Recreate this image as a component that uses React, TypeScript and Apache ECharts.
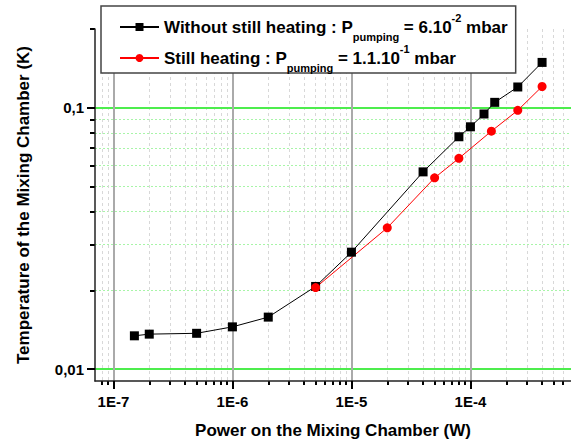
import React, { useEffect, useRef } from "react";
import * as echarts from "echarts";

const blackPower = [1.5e-7, 2e-7, 5e-7, 1e-6, 2e-6, 5e-6, 1e-5, 4e-5, 8e-5, 1e-4, 1.3e-4, 1.6e-4, 2.5e-4, 4e-4];
const blackTemp = [0.0134, 0.0136, 0.0137, 0.0145, 0.0158, 0.0207, 0.028, 0.0568, 0.0774, 0.0845, 0.0946, 0.1048, 0.12, 0.149];
const redPower = [5e-6, 2e-5, 5e-5, 8e-5, 1.5e-4, 2.5e-4, 4e-4];
const redTemp = [0.0205, 0.0347, 0.0539, 0.064, 0.0813, 0.0977, 0.1205];

const xMajorTicks = [1e-7, 1e-6, 1e-5, 1e-4];
const xMinorTicks = [
  8e-8, 9e-8,
  2e-7, 3e-7, 4e-7, 5e-7, 6e-7, 7e-7, 8e-7, 9e-7,
  2e-6, 3e-6, 4e-6, 5e-6, 6e-6, 7e-6, 8e-6, 9e-6,
  2e-5, 3e-5, 4e-5, 5e-5, 6e-5, 7e-5, 8e-5, 9e-5,
  2e-4, 3e-4, 4e-4, 5e-4, 6e-4,
];
const yMajorTicks = [0.01, 0.1];
const yMinorTicks = [0.02, 0.03, 0.04, 0.05, 0.06, 0.07, 0.08, 0.09, 0.2];

const seriesNames = ["Without still heating", "Still heating"];

const FONT = "'Liberation Sans', Arial, sans-serif";
const X_MIN = 7e-8;
const X_MAX = 7e-4;
const Y_MIN = 0.009;
const Y_MAX = 0.2;

export default function App() {
  const ref = useRef<HTMLDivElement>(null);
  useEffect(() => {
    document.body.style.margin = "0";
    if (!ref.current) return;
    const chart = echarts.init(ref.current, null, { renderer: "svg" });
    const blackData = blackPower.map((p, i) => [p, blackTemp[i]]);
    const redData = redPower.map((p, i) => [p, redTemp[i]]);
    const rich = {
      m: { fontSize: 17, fontWeight: "bold", fontFamily: FONT, color: "#000", lineHeight: 30 },
      sub: { fontSize: 11, fontWeight: "bold", fontFamily: FONT, color: "#000", lineHeight: 12, verticalAlign: "bottom" },
      sup: { fontSize: 11, fontWeight: "bold", fontFamily: FONT, color: "#000", lineHeight: 28, verticalAlign: "top" },
    };
    chart.setOption({
      animation: false,
      backgroundColor: "#fff",
      textStyle: { fontFamily: FONT },
      grid: { left: 95, top: 29, right: 0, bottom: 61, containLabel: false },
      legend: {
        orient: "vertical",
        left: 101,
        top: 6,
        padding: [6, 8, 0, 18],
        itemGap: 1,
        itemWidth: 39,
        itemHeight: 10,
        backgroundColor: "#fff",
        borderColor: "#444",
        borderWidth: 1.5,
        data: seriesNames,
        formatter: (name: string) =>
          name === seriesNames[0]
            ? "{m|Without still heating : P}{sub|pumping}{m| = 6.10}{sup|-2}{m| mbar}"
            : "{m|Still heating : P}{sub|pumping}{m| = 1.1.10}{sup|-1}{m| mbar}",
        textStyle: { rich },
      },
      xAxis: [
        {
          type: "log",
          min: X_MIN,
          max: X_MAX,
          position: "bottom",
          z: 1,
          name: "Power on the Mixing Chamber (W)",
          nameLocation: "middle",
          nameGap: 41,
          nameTextStyle: { fontSize: 17, fontWeight: "bold", color: "#000", fontFamily: FONT },
          axisLine: { show: true, onZero: false, lineStyle: { color: "#222", width: 1.5 } },
          axisTick: { show: true, length: 8, customValues: xMajorTicks, lineStyle: { color: "#000", width: 2 } },
          axisLabel: {
            customValues: xMajorTicks,
            margin: 13,
            fontSize: 15,
            fontWeight: "bold",
            color: "#000",
            fontFamily: FONT,
            formatter: (v: number) => "1E" + Math.round(Math.log10(v)),
          },
          splitLine: { show: true, lineStyle: { color: "#aaaaaa", width: 2 } },
        },
        {
          type: "log",
          min: X_MIN,
          max: X_MAX,
          position: "bottom",
          z: 0,
          axisLine: { show: false, onZero: false },
          axisTick: { show: true, length: 4, customValues: xMinorTicks, lineStyle: { color: "#000", width: 2 } },
          axisLabel: { show: false },
          splitLine: { show: true, lineStyle: { color: "#d8d8d8", width: 1, type: [3, 3] } },
        },
      ],
      yAxis: [
        {
          type: "log",
          min: Y_MIN,
          max: Y_MAX,
          position: "left",
          z: 1,
          name: "Temperature of the Mixing Chamber (K)",
          nameLocation: "middle",
          nameGap: 63,
          nameTextStyle: { fontSize: 17, fontWeight: "bold", color: "#000", fontFamily: FONT },
          axisLine: { show: true, onZero: false, lineStyle: { color: "#222", width: 1.5 } },
          axisTick: { show: true, length: 8, customValues: yMajorTicks, lineStyle: { color: "#000", width: 2 } },
          axisLabel: {
            customValues: yMajorTicks,
            margin: 11,
            fontSize: 15,
            fontWeight: "bold",
            color: "#000",
            fontFamily: FONT,
            formatter: (v: number) => String(Number(v.toPrecision(3))).replace(".", ","),
          },
          splitLine: { show: true, lineStyle: { color: "#4ded4d", width: 2 } },
        },
        {
          type: "log",
          min: Y_MIN,
          max: Y_MAX,
          position: "left",
          z: 0,
          axisLine: { show: false, onZero: false },
          axisTick: { show: true, length: 5, customValues: yMinorTicks, lineStyle: { color: "#000", width: 2 } },
          axisLabel: { show: false },
          splitLine: { show: true, showMaxLine: false, lineStyle: { color: "#a8f5a8", width: 1, type: [2, 2] } },
        },
      ],
      series: [
        {
          name: seriesNames[0],
          type: "line",
          xAxisIndex: 0,
          yAxisIndex: 0,
          data: blackData,
          symbol: "rect",
          symbolSize: 9,
          itemStyle: { color: "#000" },
          lineStyle: { color: "#000", width: 1 },
          z: 3,
        },
        {
          name: seriesNames[1],
          type: "line",
          xAxisIndex: 0,
          yAxisIndex: 0,
          data: redData,
          symbol: "circle",
          symbolSize: 9,
          itemStyle: { color: "#ff0000" },
          lineStyle: { color: "#ff0000", width: 1 },
          z: 3,
        },
      ],
    });
    return () => chart.dispose();
  }, []);
  return <div ref={ref} style={{ width: 571, height: 444 }} />;
}
